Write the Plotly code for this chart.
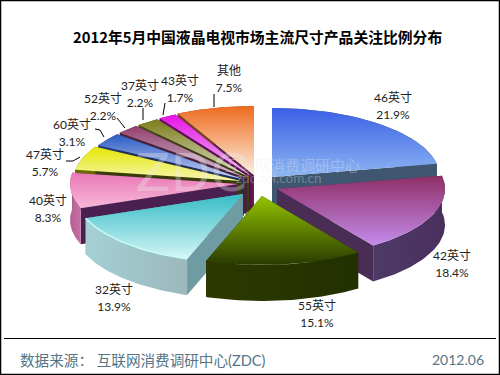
import math
import plotly.graph_objects as go

# ---- data ----
categories = ["46英寸", "42英寸", "55英寸", "32英寸", "40英寸", "47英寸", "60英寸", "52英寸", "37英寸", "43英寸", "其他"]
shares = [21.9, 18.4, 15.1, 13.9, 8.3, 5.7, 3.1, 2.2, 2.2, 1.7, 7.5]
title_text = "2012年5月中国液晶电视市场主流尺寸产品关注比例分布"
source_text = "数据来源： 互联网消费调研中心(ZDC)"
date_text = "2012.06"

# ---- styles and layout (pixel space of the 500x375 image) ----
FONT = "Noto Sans CJK SC"
LIGHT = "Lato, Noto Sans CJK SC"
RX, RY, DEPTH = 168, 69, 36
apex = [(272, 177), (277, 189), (262, 196), (243, 194), (238, 184), (241, 181),
        (244, 179.5), (246.5, 178), (249, 177), (251.5, 176), (254, 175)]
top_col = [("#3a5fe6", "#8db6f2"), ("#8f2f66", "#c48cec"), ("#93c400", "#2a3a00"), ("#35bcc6", "#d6f6f6"),
           ("#e877b6", "#f8b8d8"), ("#e6e600", "#f6f6b0"), ("#2c5cc4", "#c8d0f4"), ("#92406c", "#d4c4d8"),
           ("#7c7c1c", "#dcdcc4"), ("#e812e8", "#e8c0e8"), ("#ee6a1e", "#fdf0e0")]
rim_col = [("#3e5670", "#3e5670"), ("#4e3a66", "#4a2f5e"), ("#2c3a00", "#233000"), ("#a4d0d4", "#9cb8bc"),
           ("#b85e92", "#c472a4"), ("#6a6a00", "#6a6a00"), ("#24407c", "#24407c"), ("#52243c", "#52243c"),
           ("#4a4a10", "#4a4a10"), ("#6c0c6c", "#6c0c6c"), ("#7a4020", "#7a4020")]
cut_col = ["#3e5670", "#4a2d55", "#232e00", "#6f9ca2", "#4a2050", "#3a3a08", "#1f2f5a", "#46203a",
           "#3c3c10", "#5c0c5c", "#5c2248"]
highlight = {3: "#c4fbfb"}
draw_order = [10, 9, 8, 7, 6, 5, 4, 0, 3, 1, 2]
label_pos = [(393, 99), (452, 257), (317, 307), (114, 291), (48, 202), (45, 156),
             (72, 126), (103, 100), (140, 87), (180, 82), (229, 72)]
LINE_GAP = 17
leaders = [[(214, 94), (214, 107)], [(165, 103), (163, 115)], [(143, 108), (143, 120)],
           [(117, 118), (125, 128)], [(95, 129), (100, 130), (104, 137)], [(66, 161), (73, 161), (80, 157)]]


def arc(i, a0, a1, n=48):
    cx, cy = apex[i]
    out = []
    for k in range(n + 1):
        t = math.radians(a0 + (a1 - a0) * k / n)
        out.append((cx + RX * math.sin(t), cy - RY * math.cos(t)))
    return out


def poly(pts, **kw):
    return go.Scatter(x=[p[0] for p in pts] + [pts[0][0]], y=[p[1] for p in pts] + [pts[0][1]],
                      mode="lines", fill="toself", hoverinfo="skip", showlegend=False, **kw)


fig = go.Figure()
bounds, acc = [], 0.0
total = sum(shares)
for s in shares:
    bounds.append((acc / total * 360, (acc + s) / total * 360))
    acc += s

for i in draw_order:
    a0, a1 = bounds[i]
    cx, cy = apex[i]
    rim = arc(i, a0, a1)
    for p in (rim[0], rim[-1]):
        wall = [(cx, cy), p, (p[0], p[1] + DEPTH), (cx, cy + DEPTH)]
        fig.add_trace(poly(wall, fillcolor=cut_col[i], line=dict(width=0, color=cut_col[i])))
    band = rim + [(x, y + DEPTH) for x, y in reversed(rim)]
    xs = [p[0] for p in rim]
    fig.add_trace(poly(band, line=dict(width=0, color=rim_col[i][0]),
                       fillgradient=dict(type="horizontal", start=min(xs), stop=max(xs),
                                         colorscale=[[0, rim_col[i][0]], [1, rim_col[i][1]]])))
    face = [(cx, cy)] + rim
    ys = [p[1] for p in face]
    fig.add_trace(poly(face, line=dict(width=0, color=top_col[i][0]),
                       fillgradient=dict(type="vertical", start=min(ys), stop=max(ys),
                                         colorscale=[[0, top_col[i][0]], [1, top_col[i][1]]])))
    if i in highlight:
        fig.add_trace(go.Scatter(x=[p[0] for p in rim], y=[p[1] for p in rim], mode="lines",
                                 line=dict(color=highlight[i], width=1.5),
                                 hoverinfo="skip", showlegend=False))

lx, ly = [], []
for seg in leaders:
    lx += [p[0] for p in seg] + [None]
    ly += [p[1] for p in seg] + [None]
fig.add_trace(go.Scatter(x=lx, y=ly, mode="lines", line=dict(color="#000000", width=1),
                         hoverinfo="skip", showlegend=False))

fig.add_trace(go.Scatter(x=[p[0] for p in label_pos], y=[p[1] for p in label_pos], mode="text",
                         text=categories, textposition="middle center",
                         textfont=dict(family=LIGHT, size=12, color="#222222"),
                         hoverinfo="skip", showlegend=False))
fig.add_trace(go.Scatter(x=[p[0] for p in label_pos], y=[p[1] + LINE_GAP for p in label_pos], mode="text",
                         text=[f"{v:.1f}%" for v in shares], textposition="middle center",
                         textfont=dict(family=LIGHT, size=12, color="#222222"),
                         hoverinfo="skip", showlegend=False))


def note(x, y, text, size, color, anchor="center", bold=False, family=FONT):
    fig.add_annotation(x=x, y=y, xref="x", yref="y", text=f"<b>{text}</b>" if bold else text, showarrow=False,
                       xanchor=anchor, yanchor="middle", font=dict(family=family, size=size, color=color))


note(257.5, 36, title_text, 14.8, "#000000", bold=True)
note(18, 360, source_text, 14.6, "#557585", anchor="left", family=LIGHT)
note(486, 359, date_text, 14, "#557585", anchor="right", family=LIGHT)
wm = "rgba(235,235,235,0.32)"
note(191, 173, "ZDC", 52, wm, family="DejaVu Sans")
note(292, 164, "互联网消费调研中心", 15, wm)
note(278, 178, "zdc.zol.com.cn", 13.5, wm, family="Lato")

fig.update_layout(
    width=500, height=375, margin=dict(l=0, r=0, t=0, b=0),
    paper_bgcolor="#ffffff", plot_bgcolor="#ffffff",
    xaxis=dict(range=[0, 500], visible=False, fixedrange=True),
    yaxis=dict(range=[375, 0], visible=False, fixedrange=True),
    shapes=[
        dict(type="rect", x0=0.5, y0=0.5, x1=499.5, y1=374.5, line=dict(color="#000000", width=1.5)),
        dict(type="line", x0=4, x1=496, y0=338.5, y1=338.5, line=dict(color="#000000", width=1)),
    ],
)
fig.write_html("out.html", config=dict(displayModeBar=False),
               post_script="document.body.style.margin='0';document.body.style.overflow='hidden';")
